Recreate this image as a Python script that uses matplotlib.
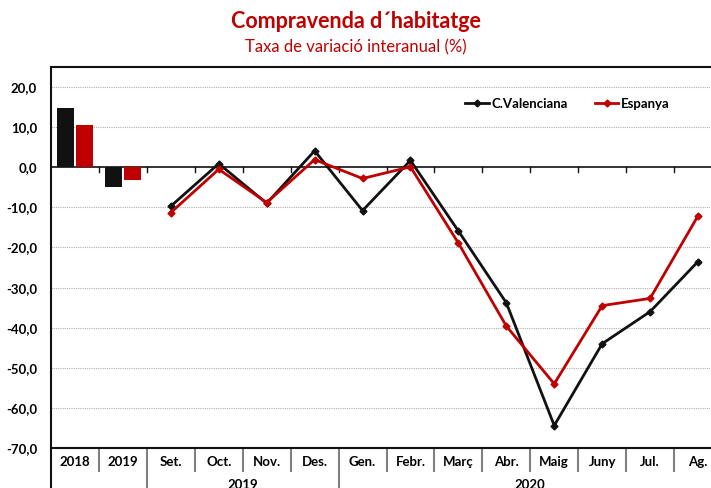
import numpy as np
import matplotlib
matplotlib.use('Agg')
import matplotlib.pyplot as plt
from matplotlib.transforms import blended_transform_factory

# --- Data ---
categories = ["2018", "2019", "Set.", "Oct.", "Nov.", "Des.", "Gen.", "Febr.",
              "Març", "Abr.", "Maig", "Juny", "Jul.", "Ag."]
groups = [("2019", 1.5, 5.5), ("2020", 5.5, 13.5)]

bar_cv = [14.7, -5.0]
bar_es = [10.6, -3.2]

line_cv = [-9.7, 0.9, -9.0, 4.1, -10.8, 1.7, -15.9, -33.8, -64.4, -44.0, -36.0, -23.5]
line_es = [-11.3, -0.5, -8.8, 1.9, -2.8, 0.1, -18.9, -39.6, -54.0, -34.5, -32.7, -12.1]

yticks = [20, 10, 0, -10, -20, -30, -40, -50, -60, -70]

black = "#111111"
red = "#C00000"
font = "Lato"

fig = plt.figure(figsize=(7.11, 4.88), dpi=100)
ax = fig.add_axes([51/711, 40/488, 671/711, 381/488])

x_bars = np.arange(len(bar_cv))
ax.bar(x_bars - 0.2, bar_cv, width=0.36, color=black, zorder=3)
ax.bar(x_bars + 0.2, bar_es, width=0.36, color=red, zorder=3)

x_line = np.arange(2, 2 + len(line_cv))
ax.plot(x_line, line_cv, color=black, lw=2.0, marker="D", ms=3.5,
        label="C.Valenciana", zorder=4)
ax.plot(x_line, line_es, color=red, lw=2.0, marker="D", ms=3.5,
        label="Espanya", zorder=4)

ax.set_xlim(-0.5, len(categories) - 0.5)
ax.set_ylim(-70, 25)
ax.set_yticks(yticks)
ax.set_yticklabels([f"{v:.1f}".replace(".", ",") for v in yticks],
                   fontweight="bold", fontsize=9.5, family=font)
ax.tick_params(axis="y", length=0, pad=10)
ax.set_xticks([])

for v in yticks:
    if v not in (0, -70):
        ax.axhline(v, color="#b0b0b0", lw=0.8, ls=(0, (1, 1)), zorder=1)
ax.axhline(0, color=black, lw=1.2, zorder=2)

for s in ax.spines.values():
    s.set_color(black)
    s.set_linewidth(1.5)

# category "table" below the axes
trans = blended_transform_factory(ax.transData, ax.transAxes)
bounds = np.arange(len(categories) + 1) - 0.5
for b in bounds[1:-1]:
    # small ticks hanging from the zero line
    ax.plot([b, b], [0, -1.1], color=black, lw=1.0, zorder=2)
    long = b in (1.5, 5.5)
    ax.plot([b, b], [0, -0.16 if long else -0.06], transform=trans,
            color="#808080", lw=1.5, clip_on=False)
ax.plot([-0.5, -0.5], [0, -0.16], transform=trans, color=black, lw=1.5,
        clip_on=False)

for i, c in enumerate(categories):
    ax.text(i, -0.036, c, transform=trans, ha="center", va="center",
            fontsize=9.5, fontweight="bold", family=font)
# group labels sit at the bottom edge (partly cut, as in the source image)
for name, a, b in groups:
    ax.text((a + b) / 2, -0.096, name, transform=trans, ha="center",
            va="center", fontsize=9.5, fontweight="bold", family=font)

leg = ax.legend(loc="upper left", bbox_to_anchor=(0.6, 0.95), ncol=2,
                frameon=False, handlelength=1.8, handletextpad=0.2,
                columnspacing=2.0, prop={"family": font, "weight": "bold",
                                         "size": 9.5})

fig.text(0.5, 0.956, "Compravenda d\u00b4habitatge", ha="center", va="center",
         color=red, fontsize=15.5, fontweight="bold", family=font)
fig.text(0.5, 0.903, "Taxa de variació interanual (%)", ha="center",
         va="center", color=red, fontsize=12, family=font)

fig.savefig("out.png", dpi=100)
